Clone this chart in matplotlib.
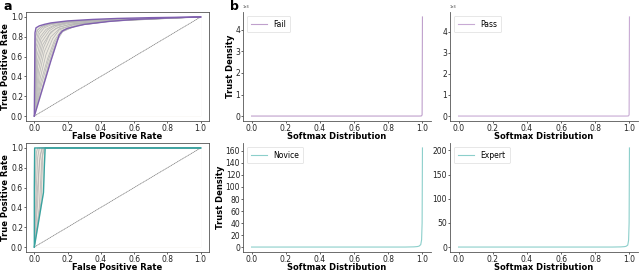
import matplotlib
matplotlib.use("Agg")
import matplotlib.pyplot as plt

# --- ROC data ---
# top panel: envelope curves (purple) and a handful of grey bootstrap curves
roc_top_hi_fpr = [0.0, 0.004, 0.01, 0.03, 0.06, 0.1, 0.2, 0.35, 0.5, 0.7, 1.0]
roc_top_hi_tpr = [0.0, 0.84, 0.89, 0.91, 0.925, 0.94, 0.96, 0.975, 0.985, 0.993, 1.0]
roc_top_lo_fpr = [0.0, 0.05, 0.1, 0.15, 0.17, 0.2, 0.3, 0.45, 0.6, 0.8, 1.0]
roc_top_lo_tpr = [0.0, 0.28, 0.56, 0.82, 0.86, 0.885, 0.925, 0.955, 0.975, 0.99, 1.0]
roc_top_grey = [
    ([0.0, 0.005, 0.02, 0.05, 0.1, 0.2, 0.4, 1.0], [0.0, 0.78, 0.87, 0.91, 0.935, 0.955, 0.975, 1.0]),
    ([0.0, 0.01, 0.03, 0.06, 0.1, 0.2, 0.4, 1.0], [0.0, 0.70, 0.83, 0.89, 0.92, 0.95, 0.97, 1.0]),
    ([0.0, 0.015, 0.04, 0.08, 0.12, 0.2, 0.4, 1.0], [0.0, 0.60, 0.78, 0.87, 0.91, 0.94, 0.97, 1.0]),
    ([0.0, 0.02, 0.05, 0.1, 0.15, 0.25, 0.45, 1.0], [0.0, 0.50, 0.72, 0.85, 0.90, 0.935, 0.965, 1.0]),
    ([0.0, 0.03, 0.06, 0.1, 0.15, 0.25, 0.45, 1.0], [0.0, 0.42, 0.65, 0.80, 0.88, 0.93, 0.96, 1.0]),
    ([0.0, 0.04, 0.08, 0.12, 0.16, 0.25, 0.45, 1.0], [0.0, 0.35, 0.58, 0.76, 0.86, 0.92, 0.96, 1.0]),
    ([0.0, 0.05, 0.09, 0.13, 0.17, 0.25, 0.45, 1.0], [0.0, 0.30, 0.55, 0.74, 0.85, 0.91, 0.955, 1.0]),
    ([0.0, 0.008, 0.025, 0.05, 0.09, 0.18, 0.35, 1.0], [0.0, 0.74, 0.85, 0.895, 0.925, 0.95, 0.97, 1.0]),
    ([0.0, 0.012, 0.035, 0.07, 0.11, 0.2, 0.4, 1.0], [0.0, 0.66, 0.80, 0.875, 0.91, 0.945, 0.97, 1.0]),
    ([0.0, 0.025, 0.055, 0.09, 0.13, 0.22, 0.42, 1.0], [0.0, 0.46, 0.69, 0.82, 0.885, 0.93, 0.962, 1.0]),
    ([0.0, 0.035, 0.07, 0.11, 0.15, 0.24, 0.44, 1.0], [0.0, 0.38, 0.62, 0.78, 0.87, 0.925, 0.96, 1.0]),
    ([0.0, 0.018, 0.045, 0.09, 0.13, 0.22, 0.42, 1.0], [0.0, 0.55, 0.75, 0.86, 0.905, 0.94, 0.968, 1.0]),
    ([0.0, 0.045, 0.085, 0.125, 0.165, 0.26, 0.46, 1.0], [0.0, 0.33, 0.57, 0.75, 0.855, 0.915, 0.958, 1.0]),
    ([0.0, 0.007, 0.015, 0.04, 0.08, 0.15, 0.3, 1.0], [0.0, 0.8, 0.86, 0.9, 0.925, 0.945, 0.965, 1.0]),
]
# bottom panel
roc_bot_hi_fpr = [0.0, 0.0, 0.002, 1.0]
roc_bot_hi_tpr = [0.0, 0.6, 1.0, 1.0]
roc_bot_lo_fpr = [0.0, 0.055, 0.06, 0.065, 1.0]
roc_bot_lo_tpr = [0.0, 0.55, 0.8, 1.0, 1.0]
roc_bot_grey = [
    ([0.0, 0.01, 0.02, 0.03, 1.0], [0.0, 0.5, 0.9, 1.0, 1.0]),
    ([0.0, 0.02, 0.03, 0.045, 1.0], [0.0, 0.45, 0.85, 1.0, 1.0]),
    ([0.0, 0.03, 0.045, 0.055, 1.0], [0.0, 0.40, 0.88, 1.0, 1.0]),
    ([0.0, 0.005, 0.012, 0.02, 1.0], [0.0, 0.6, 0.95, 1.0, 1.0]),
    ([0.0, 0.04, 0.05, 0.06, 1.0], [0.0, 0.45, 0.92, 1.0, 1.0]),
    ([0.0, 0.015, 0.035, 0.05, 1.0], [0.0, 0.5, 0.93, 1.0, 1.0]),
]

# --- softmax trust density data ---
soft_x = [0.0, 0.2, 0.4, 0.6, 0.8, 0.9, 0.95, 0.97, 0.98, 0.99, 0.995, 0.998, 1.0]
dens_fail = [0, 0, 0, 0, 0, 0, 0, 0, 0, 2, 10, 60, 4600]
dens_pass = [0, 0, 0, 0, 0, 0, 0, 0, 0, 2, 10, 60, 4700]
dens_novice = [0, 0, 0, 0, 0, 0, 0.3, 0.8, 1.5, 4, 12, 40, 165]
dens_expert = [0, 0, 0, 0, 0, 0, 0.3, 0.8, 1.5, 4, 14, 50, 205]

PURPLE = "#8060b0"
TEAL = "#38a3a0"
GREY = "#b4b4b4"
FILL = "#ece9e0"
FS_TICK = 5.5
FS_LAB = 6

W, H = 640, 271


def px_axes(fig, left, top, right, bottom):
    return fig.add_axes([left / W, 1 - bottom / H, (right - left) / W, (bottom - top) / H])


def style(ax):
    ax.tick_params(labelsize=FS_TICK, length=1.5, width=0.5, pad=0.6, colors="#222222")
    for s in ax.spines.values():
        s.set_linewidth(0.6)
        s.set_color("#555555")


def roc(ax, hi, lo, greys, col):
    ax.fill_between(hi[0], hi[1], color=FILL, lw=0)
    ax.fill_between(lo[0], lo[1], color="white", lw=0)
    for fx, ty in greys:
        ax.plot(fx, ty, color=GREY, lw=0.5)
    ax.plot([0, 1], [0, 1], color="#777777", lw=0.5, ls=(0, (2, 0.6)))
    ax.plot(hi[0], hi[1], color=col, lw=1.0)
    ax.plot(lo[0], lo[1], color=col, lw=1.0)
    ax.set_xticks([0, 0.2, 0.4, 0.6, 0.8, 1.0])
    ax.set_yticks([0, 0.2, 0.4, 0.6, 0.8, 1.0])
    ax.set_xlabel("False Positive Rate", fontsize=FS_LAB, fontweight="bold", labelpad=-0.5)
    ax.set_ylabel("True Positive Rate", fontsize=FS_LAB, fontweight="bold", labelpad=0.5)
    style(ax)


def dens(ax, y, col, label, ylab, sci):
    ax.plot(soft_x, y, color=col, lw=0.8, label=label)
    ax.set_xticks([0, 0.2, 0.4, 0.6, 0.8, 1.0])
    ax.set_xlabel("Softmax Distribution", fontsize=FS_LAB, fontweight="bold", labelpad=-0.5)
    if ylab:
        ax.set_ylabel("Trust Density", fontsize=FS_LAB, fontweight="bold", labelpad=0.5)
    ax.spines["top"].set_visible(False)
    ax.spines["right"].set_visible(False)
    style(ax)
    if sci:
        ax.ticklabel_format(axis="y", style="sci", scilimits=(0, 0))
    ax.yaxis.get_offset_text().set_fontsize(2.5)
    leg = ax.legend(loc="upper left", fontsize=FS_TICK, handlelength=2.2, borderpad=0.5,
                    framealpha=1, fancybox=True)
    leg.get_frame().set_linewidth(0.5)
    leg.get_frame().set_edgecolor("#dddddd")


fig = plt.figure(figsize=(W / 100, H / 100), dpi=100)

ax1 = px_axes(fig, 26, 12, 209, 121)
roc(ax1, (roc_top_hi_fpr, roc_top_hi_tpr), (roc_top_lo_fpr, roc_top_lo_tpr), roc_top_grey, PURPLE)
ax2 = px_axes(fig, 26, 143, 209, 252)
roc(ax2, (roc_bot_hi_fpr, roc_bot_hi_tpr), (roc_bot_lo_fpr, roc_bot_lo_tpr), roc_bot_grey, TEAL)

ax3 = px_axes(fig, 243, 12, 431, 121)
dens(ax3, dens_fail, "#bfa0cc", "Fail", True, True)
ax4 = px_axes(fig, 450, 12, 638, 121)
dens(ax4, dens_pass, "#c8aad4", "Pass", False, True)
ax5 = px_axes(fig, 243, 143, 431, 252)
dens(ax5, dens_novice, "#8ccfcb", "Novice", True, False)
ax6 = px_axes(fig, 450, 143, 638, 252)
dens(ax6, dens_expert, "#8ccfcb", "Expert", False, False)
ax5.set_yticks(range(0, 161, 20))
ax6.set_yticks(range(0, 201, 50))

fig.text(3 / W, 1 - 10 / H, "a", fontsize=9, fontweight="bold")
fig.text(230 / W, 1 - 10 / H, "b", fontsize=9, fontweight="bold")

fig.savefig("out.png", dpi=100)
